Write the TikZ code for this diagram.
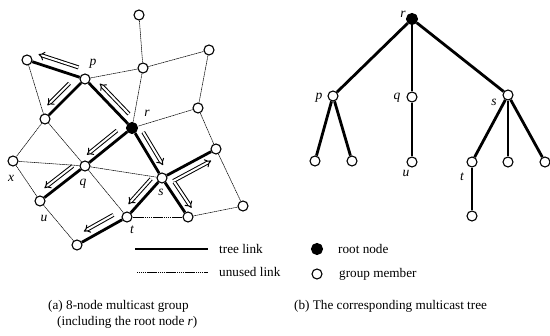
\documentclass[tikz,border=0pt]{standalone}
\usepackage{fontspec}
\setmainfont{Liberation Serif}
\usetikzlibrary{calc,arrows.meta}
\newcommand{\flowarr}[6]{\draw[flow] ($(#1)!#3!(#2)!#6!#5:(#2)$) -- ($(#1)!#4!(#2)!#6!#5:(#2)$);}
\begin{document}
\begin{tikzpicture}[x=1pt,y=-1pt,
  nd/.style={circle,draw,fill=white,line width=1.1pt,minimum size=10pt,inner sep=0pt},
  rootnd/.style={circle,draw,fill=black,line width=1.1pt,minimum size=11pt,inner sep=0pt},
  treelink/.style={line width=2.8pt},
  unused/.style={line width=0.55pt,dash pattern=on 1.4pt off 0.5pt},
  lbl/.style={font=\fontsize{13.5}{15}\selectfont\itshape,inner sep=0pt},
  txt/.style={font=\fontsize{13.2}{15}\selectfont,inner sep=0pt,anchor=west},
  flow/.style={double,double distance=2pt,line width=1pt,-{Implies[scale=1.5]}}]
\useasboundingbox (0,0) rectangle (550,336);
% ---- (a) network ----
\node[nd] (top) at (139,15) {};
\node[nd] (A) at (27,60) {};
\node[nd] (p) at (85,79) {};
\node[nd] (B) at (143,68) {};
\node[nd] (C) at (209,50) {};
\node[nd] (D) at (198,108) {};
\node[rootnd] (r) at (132,128) {};
\node[nd] (E) at (45,119) {};
\node[nd] (x) at (13,161) {};
\node[nd] (q) at (85,166) {};
\node[nd] (F) at (216,149) {};
\node[nd] (s) at (162,178) {};
\node[nd] (u) at (40,201) {};
\node[nd] (G) at (243,206) {};
\node[nd] (H) at (188,217) {};
\node[nd] (t) at (127,217) {};
\node[nd] (bot) at (77,245) {};
% unused links
\foreach \a/\b in {top/B,A/E,p/B,B/C,B/r,C/D,D/r,D/F,F/G,G/H,H/t,E/x,E/q,x/q,q/s,x/u,q/t,u/bot}
  \draw[unused] (\a) -- (\b);
% tree links
\foreach \a/\b in {A/p,p/E,p/r,r/q,r/s,q/u,s/F,s/H,s/t,t/bot}
  \draw[treelink] (\a) -- (\b);
% flow arrows
\flowarr{p}{A}{0.16}{0.85}{-90}{9pt}
\flowarr{p}{E}{0.25}{0.80}{-90}{8pt}
\flowarr{r}{p}{0.18}{0.80}{-90}{7.5pt}
\flowarr{r}{q}{0.22}{0.86}{-90}{7.5pt}
\flowarr{r}{s}{0.16}{0.82}{90}{7.5pt}
\flowarr{q}{u}{0.17}{0.80}{-90}{7.5pt}
\flowarr{s}{F}{0.14}{0.84}{-90}{8pt}
\flowarr{s}{H}{0.22}{0.88}{90}{8pt}
\flowarr{s}{t}{0.15}{0.80}{-90}{7.5pt}
\flowarr{t}{bot}{0.19}{0.78}{-90}{8.5pt}
% labels
\node[lbl] (lp) at (93,64) {p};
\node[lbl] (lr) at (147,113) {r};
\node[lbl] (lx) at (11,178) {x};
\node[lbl] (lq) at (83,184) {q};
\node[lbl] (ls) at (161,192) {s};
\node[lbl] (lu) at (44,218) {u};
\node[lbl] (lt) at (132,230) {t};
% ---- (b) tree ----
\node[rootnd] (R) at (412,19) {};
\node[nd] (P) at (333,96) {};
\node[nd] (Q) at (412,97) {};
\node[nd] (S) at (508,95) {};
\node[nd] (P1) at (315,161) {};
\node[nd] (P2) at (352,161) {};
\node[nd] (U) at (412,162) {};
\node[nd] (T) at (472,162) {};
\node[nd] (S2) at (508,162) {};
\node[nd] (S3) at (545,162) {};
\node[nd] (T1) at (472,216) {};
\foreach \a/\b in {R/P,R/Q,R/S,P/P1,P/P2,Q/U,S/T,S/S2,S/S3,T/T1}
  \draw[treelink] (\a) -- (\b);
\node[lbl] (lR) at (403,14) {r};
\node[lbl] (lP) at (319,98) {p};
\node[lbl] (lQ) at (397,98) {q};
\node[lbl] (lS) at (494,102) {s};
\node[lbl] (lU) at (406,173) {u};
\node[lbl] (lT) at (462,177) {t};
% ---- legend ----
\coordinate (k1a) at (135,249);
\coordinate (k1b) at (208,249);
\coordinate (k2a) at (137,272);
\coordinate (k2b) at (208,272);
\draw[treelink] (k1a) -- (k1b);
\draw[unused] (k2a) -- (k2b);
\node[txt] (ktree) at (219,249) {tree link};
\node[txt] (kunused) at (219,272) {unused link};
\node[rootnd] (kroot) at (317,249) {};
\node[nd] (kmem) at (317,274) {};
\node[txt] (kroott) at (338,249) {root node};
\node[txt] (kmemt) at (339,274) {group member};
% ---- captions ----
\node[txt] (capa) at (48,306) {(a) 8-node multicast group};
\node[txt] (capa2) at (57,322) {(including the root node \textit{r})};
\node[txt] (capb) at (294,306) {(b) The corresponding multicast tree};
\end{tikzpicture}
\end{document}
